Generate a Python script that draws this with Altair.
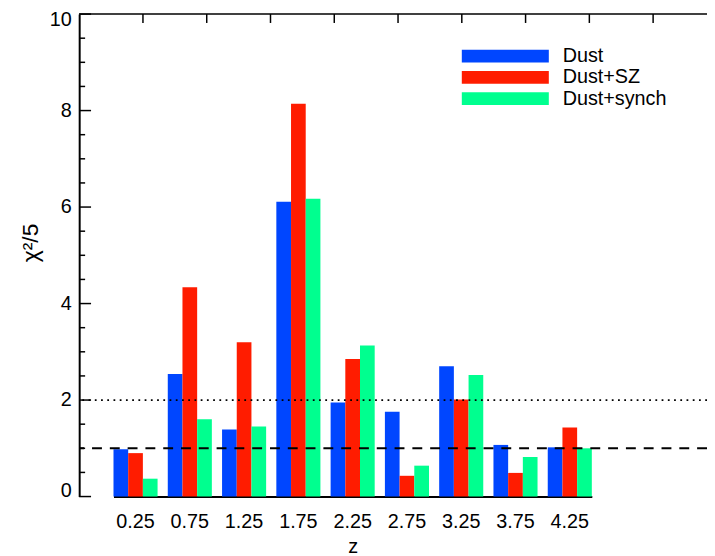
import altair as alt
import pandas as pd

# ---- data ----
z_labels = ["0.25", "0.75", "1.25", "1.75", "2.25", "2.75", "3.25", "3.75", "4.25"]
series = ["Dust", "Dust+SZ", "Dust+synch"]
dust = [0.98, 2.54, 1.39, 6.11, 1.95, 1.76, 2.70, 1.07, 1.02]
dust_sz = [0.90, 4.34, 3.20, 8.14, 2.85, 0.43, 2.01, 0.49, 1.43]
dust_synch = [0.37, 1.60, 1.45, 6.17, 3.13, 0.64, 2.52, 0.82, 1.00]
colors = ["#0046ff", "#ff1c00", "#00ff8f"]

y_label_values = [0, 2, 4, 6, 8, 10]
y_major_ticks = [0, 2, 4, 6, 8, 10]
y_minor_ticks = [0.5, 1, 1.5, 2.5, 3, 3.5, 4.5, 5, 5.5, 6.5, 7, 7.5, 8.5, 9, 9.5]
top_ticks = [1, 2, 3, 4, 5, 6, 7, 8, 9]
dashed_level = [1]
dotted_level = [2]
frame_top = [10]

FONT = "Liberation Sans"
FS = 20
W, H = 635, 488

rows = []
for name, vals in zip(series, [dust, dust_sz, dust_synch]):
    for z, v in zip(z_labels, vals):
        rows.append({"z": z, "series": name, "value": v})
df = pd.DataFrame(rows)

y_scale = alt.Scale(domain=[0, 10], nice=False, zero=True)

bars = alt.Chart(df).mark_bar().encode(
    x=alt.X(
        "z:N",
        sort=z_labels,
        scale=alt.Scale(range=[34.7, 518.5], paddingInner=0.188, paddingOuter=0),
        axis=alt.Axis(
            title="z", ticks=False, tickSize=0, domain=True, domainColor="black",
            domainWidth=2, labelFontSize=FS, labelAngle=0, labelPadding=31,
            labelBaseline="alphabetic", titleFontSize=FS, titleY=57,
            titleBaseline="alphabetic", titleFontWeight="normal",
        ),
    ),
    xOffset=alt.XOffset("series:N", sort=series,
                        scale=alt.Scale(paddingInner=0, paddingOuter=0)),
    y=alt.Y(
        "value:Q",
        scale=y_scale,
        axis=alt.Axis(
            title="χ²/5", values=y_label_values, ticks=False, tickSize=0,
            domain=True, domainColor="black", domainWidth=2, grid=False,
            labelFontSize=FS, labelPadding=8, labelFlush=True, labelFlushOffset=4,
            titleFontSize=23, titleFontWeight="normal", titleX=-49, titleY=231,
            titleAngle=-90, titleAlign="center", titleBaseline="middle",
        ),
    ),
    color=alt.Color(
        "series:N",
        sort=series,
        scale=alt.Scale(domain=series, range=colors),
        legend=alt.Legend(
            title=None, orient="none", legendX=421, legendY=32.5,
            symbolType="M-6.77,-1H6.77V1H-6.77Z", symbolSize=169,
            symbolStrokeWidth=0, symbolOpacity=1, labelFontSize=FS,
            labelOffset=48, rowPadding=1.5, padding=0, labelFont=FONT,
            labelColor="black",
        ),
    ),
)

major = alt.Chart(pd.DataFrame({"t": y_major_ticks})).mark_rule(
    color="black", strokeWidth=1.5
).encode(y=alt.Y("t:Q", scale=y_scale), x=alt.value(0), x2=alt.value(12))

minor = alt.Chart(pd.DataFrame({"t": y_minor_ticks})).mark_rule(
    color="black", strokeWidth=1.5
).encode(y=alt.Y("t:Q", scale=y_scale), x=alt.value(0), x2=alt.value(6))

top_line = alt.Chart(pd.DataFrame({"t": frame_top})).mark_rule(
    color="black", strokeWidth=1.5
).encode(y=alt.Y("t:Q", scale=y_scale))

dashed = alt.Chart(pd.DataFrame({"t": dashed_level})).mark_rule(
    color="black", strokeWidth=2, strokeDash=[10, 8]
).encode(y=alt.Y("t:Q", scale=y_scale))

dotted = alt.Chart(pd.DataFrame({"t": dotted_level})).mark_rule(
    color="black", strokeWidth=1.8, strokeDash=[1.8, 4.5]
).encode(y=alt.Y("t:Q", scale=y_scale))

topt = alt.Chart(pd.DataFrame({"t": top_ticks})).mark_rule(
    color="black", strokeWidth=1.5
).encode(
    x=alt.X("t:Q", scale=alt.Scale(domain=[0, W / 64.5], nice=False, zero=True), axis=None),
    y=alt.value(0),
    y2=alt.value(9),
)

chart = (
    alt.layer(bars, dashed, dotted, top_line, major, minor, topt)
    .resolve_scale(x="independent")
    .properties(
        width=W,
        height=H,
        autosize=alt.AutoSizeParams(type="none"),
        padding={"left": 72, "top": 3, "right": 0, "bottom": 57},
    )
    .configure(font=FONT)
    .configure_view(stroke=None)
    .configure_axis(labelColor="black", titleColor="black", labelFont=FONT, titleFont=FONT)
)

chart.save("out.html", embed_options={"renderer": "svg", "actions": False})
